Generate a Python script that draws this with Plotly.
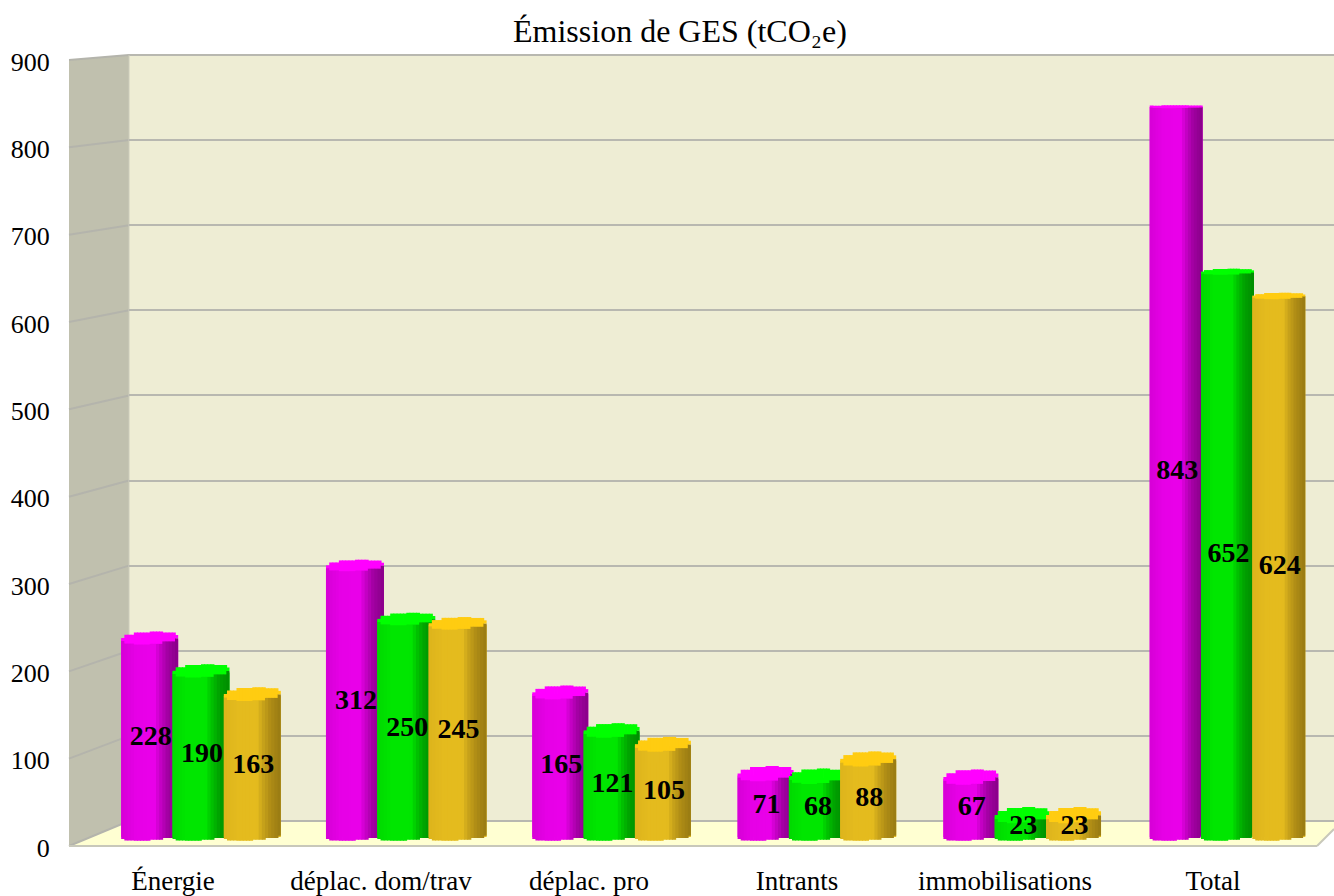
import numpy as np
import plotly.graph_objects as go

# Chart content
categories = ["Énergie", "déplac. dom/trav", "déplac. pro", "Intrants", "immobilisations", "Total"]
series_a = [228, 312, 165, 71, 67, 843]
series_b = [190, 250, 121, 68, 23, 652]
series_c = [163, 245, 105, 88, 23, 624]
y_ticks = [0, 100, 200, 300, 400, 500, 600, 700, 800, 900]
title_text = "Émission de GES (tCO₂e)"

W, H = 1334, 896
FONT = "Liberation Serif"


def fx(px):
    return px / W


def fy(py):
    return 1 - py / H


# Pixel frame of the pseudo-3D box
BACK_L, BACK_R, BACK_TOP, BACK_BOTTOM = 129, 1334, 55, 821
FRONT_L, FRONT_R, FRONT_TOP, FRONT_BOTTOM = 69, 1317, 60, 846
LABEL_SHIFT = 1.5

# Bar plane: value axis and category spacing
PX_PER_UNIT = 0.866
BAR_ZERO = 837
BAR_FLOOR = -10
CENTER0, STEP = 201, 205.3
BAR_WIDTH_PX = np.array([57, 58, 56, 56, 55, 53])
SERIES_OFFSET = [-0.25, 0.0, 0.25]
N_SLICES = 18
SIDES = 6

# Cylinder shading: position across the bar -> colour
STYLES = [
    dict(name="serie_a", main="#E600E6", cap="#FF00FF",
         stops=[(0, "#D600D6"), (0.25, "#E600E6"), (0.58, "#EA00EA"), (0.68, "#C800C8"),
                (0.82, "#A000A0"), (1, "#880088")]),
    dict(name="serie_b", main="#00E400", cap="#00FF00",
         stops=[(0, "#00D800"), (0.25, "#00E600"), (0.58, "#00E600"), (0.68, "#00C400"),
                (0.82, "#00A000"), (1, "#008C00")]),
    dict(name="serie_c", main="#E3BA1E", cap="#FFCC11",
         stops=[(0, "#DDB41C"), (0.25, "#E4BB1E"), (0.58, "#E4BB1E"), (0.68, "#C9A31A"),
                (0.82, "#AE8C16"), (1, "#977A12")]),
]


def shade(stops, t):
    xs = [s[0] for s in stops]
    chans = []
    for k in (1, 3, 5):
        vals = [int(s[1][k:k + 2], 16) for s in stops]
        chans.append(int(round(np.interp(t, xs, vals))))
    return "rgb({},{},{})".format(*chans)


fig = go.Figure()

# Back wall grid on the first axis pair, front labels on the second, bars on the third
fig.add_trace(go.Scatter(x=[0], y=[0], xaxis="x", yaxis="y", mode="markers",
                         marker=dict(opacity=0), showlegend=False, hoverinfo="skip"))
fig.add_trace(go.Scatter(x=[0], y=[0], xaxis="x2", yaxis="y2", mode="markers",
                         marker=dict(opacity=0), showlegend=False, hoverinfo="skip"))

xpos = np.arange(len(categories))
width_units = BAR_WIDTH_PX / STEP

for values, style, shift in zip((series_a, series_b, series_c), STYLES, SERIES_OFFSET):
    v = np.array(values, dtype=float)
    # Flat body drawn straight from the values
    fig.add_trace(go.Bar(x=xpos, y=v, base=0, xaxis="x3", yaxis="y3", name=style["name"],
                         width=width_units, offset=shift - width_units / 2,
                         marker=dict(color=style["main"], line=dict(width=0)),
                         showlegend=False, hoverinfo="skip"))
    # Ellipse half-height and tilt of the cap shrink as the bar rises
    ell = (1.5 + 6.5 * (1 - v / 843)) / PX_PER_UNIT
    tilt = (0.5 + 3.5 * (1 - v / 843)) / PX_PER_UNIT
    for j in range(N_SLICES):
        t = (j + 0.5) / N_SLICES
        # The round outline is a polygon: sample it per side for stepped edges
        theta = np.arccos(1 - 2 * t)
        theta_q = (np.floor(theta / np.pi * SIDES) + 0.5) * np.pi / SIDES
        arc = np.sin(theta_q)
        t_q = (1 - np.cos(theta_q)) / 2
        sw = width_units / N_SLICES
        off = shift - width_units / 2 + j * sw
        draw_w = sw if j == N_SLICES - 1 else sw * 1.25
        centre = v + tilt * t_q
        front = centre - ell * arc
        back = centre + ell * arc
        bottom = -(1.0 - 3.5 * t_q + 4.2 * arc) / PX_PER_UNIT
        col = shade(style["stops"], t)
        fig.add_trace(go.Bar(x=xpos, y=front - bottom, base=bottom, xaxis="x3", yaxis="y3",
                             width=draw_w, offset=off,
                             marker=dict(color=col, line=dict(width=0)),
                             showlegend=False, hoverinfo="skip"))
        fig.add_trace(go.Bar(x=xpos, y=back - front, base=front, xaxis="x3", yaxis="y3",
                             width=draw_w, offset=off,
                             marker=dict(color=style["cap"], line=dict(width=0)),
                             showlegend=False, hoverinfo="skip"))

# Value labels centred on each bar
for values, shift in zip((series_a, series_b, series_c), SERIES_OFFSET):
    v = np.array(values, dtype=float)
    fig.add_trace(go.Scatter(x=xpos + shift + 1 / STEP, y=v / 2, xaxis="x3", yaxis="y3", mode="text",
                             text=[str(n) for n in values], textposition="middle center",
                             textfont=dict(family=FONT, size=28, color="black", weight="bold"),
                             showlegend=False, hoverinfo="skip", cliponaxis=False))

# Walls and floor
shapes = []


def poly(points, fill):
    path = "M " + " L ".join(f"{fx(x):.5f},{fy(y):.5f}" for x, y in points) + " Z"
    shapes.append(dict(type="path", path=path, xref="paper", yref="paper", layer="below",
                       fillcolor=fill, line=dict(width=0)))


def seg(x0, y0, x1, y1, color, width=2):
    shapes.append(dict(type="line", xref="paper", yref="paper", layer="below",
                       x0=fx(x0), x1=fx(x1), y0=fy(y0), y1=fy(y1),
                       line=dict(color=color, width=width)))


poly([(BACK_L, BACK_TOP), (BACK_R, BACK_TOP), (BACK_R, BACK_BOTTOM), (BACK_L, BACK_BOTTOM)], "#EEEDD4")
poly([(FRONT_L, FRONT_TOP), (BACK_L, BACK_TOP), (BACK_L, BACK_BOTTOM), (FRONT_L, FRONT_BOTTOM)], "#C0C0AE")
poly([(FRONT_L, FRONT_BOTTOM), (BACK_L, BACK_BOTTOM), (BACK_R, BACK_BOTTOM), (BACK_R, 829),
      (FRONT_R, FRONT_BOTTOM)], "#FFFFD2")

# Grid lines folding from the back wall onto the side wall
for tick in y_ticks:
    f = tick / 900
    y_front = FRONT_BOTTOM + (FRONT_TOP - FRONT_BOTTOM) * f
    y_back = BACK_BOTTOM + (BACK_TOP - BACK_BOTTOM) * f
    seg(FRONT_L, y_front, BACK_L, y_back, "#B4B4AC")
seg(BACK_L, BACK_TOP, BACK_R, BACK_TOP, "#B8B8B0")
seg(BACK_L, BACK_BOTTOM, BACK_R, BACK_BOTTOM, "#B8B8B0")
seg(BACK_L, BACK_TOP, BACK_L, BACK_BOTTOM, "#CDCDBC", 1)
seg(FRONT_L, FRONT_BOTTOM, FRONT_R, FRONT_BOTTOM, "#C8C8BA")
seg(FRONT_R, FRONT_BOTTOM, BACK_R, 829, "#C8C8BA")

x3_left = CENTER0 - STEP / 2

fig.update_layout(
    width=W, height=H,
    margin=dict(l=0, r=0, t=0, b=0),
    paper_bgcolor="white", plot_bgcolor="rgba(0,0,0,0)",
    barmode="overlay", showlegend=False, hovermode=False,
    shapes=shapes,
    annotations=[dict(text=title_text, xref="paper", yref="paper", x=fx(680), y=fy(31),
                      xanchor="center", yanchor="middle", showarrow=False,
                      font=dict(family=FONT, size=32, color="black"))],
    # Back wall grid
    xaxis=dict(domain=[fx(BACK_L), fx(BACK_R)], range=[0, 1], visible=False, fixedrange=True),
    yaxis=dict(domain=[fy(BACK_BOTTOM), fy(BACK_TOP)], range=[0, 900], tickvals=y_ticks,
               showgrid=True, gridcolor="#B8B8B0", gridwidth=2, zeroline=False,
               showticklabels=False, ticks="", showline=False, anchor="x"),
    # Front edge with the tick labels
    xaxis2=dict(domain=[fx(FRONT_L), fx(FRONT_R)], range=[-0.5, 5.5], tickvals=list(xpos),
                ticktext=categories, tickfont=dict(family=FONT, size=27, color="black"),
                ticks="outside", ticklen=9,
                tickcolor="rgba(0,0,0,0)", showgrid=False, zeroline=False, showline=False,
                anchor="y2", automargin=False),
    yaxis2=dict(domain=[fy(FRONT_BOTTOM + LABEL_SHIFT), fy(FRONT_TOP + LABEL_SHIFT)], range=[0, 900],
                tickvals=y_ticks, tickfont=dict(family=FONT, size=26, color="black"),
                ticks="outside", ticklen=13, tickcolor="rgba(0,0,0,0)",
                showgrid=False, zeroline=False, showline=False, anchor="x2", automargin=False),
    # Bars
    xaxis3=dict(domain=[fx(x3_left), fx(x3_left + 6 * STEP)], range=[-0.5, 5.5], visible=False,
                anchor="y3"),
    yaxis3=dict(domain=[fy(BAR_ZERO - BAR_FLOOR * PX_PER_UNIT), fy(BAR_ZERO - 900 * PX_PER_UNIT)],
                range=[BAR_FLOOR, 900], visible=False, anchor="x3"),
)

fig.write_html("out.html")
